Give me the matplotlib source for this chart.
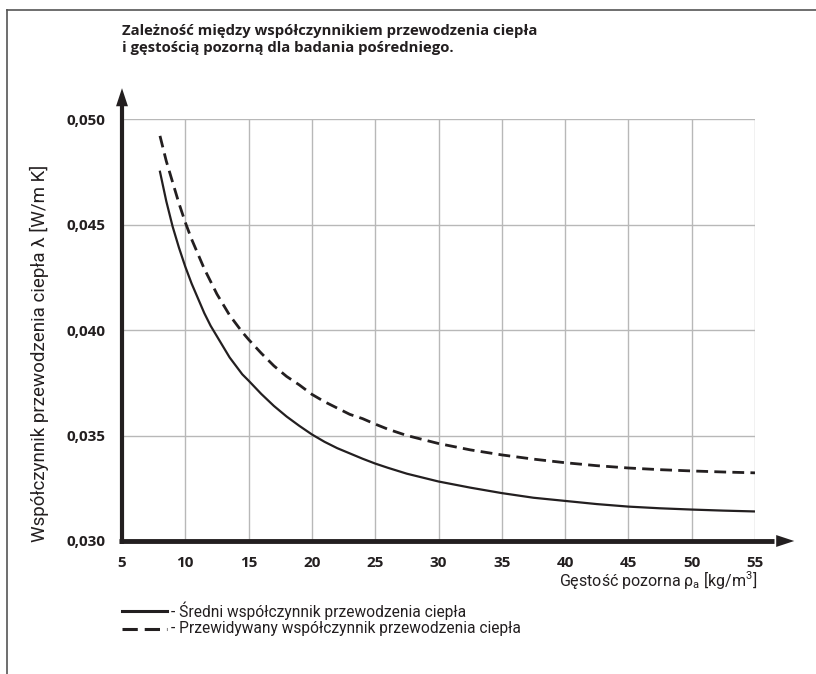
import matplotlib
matplotlib.use('Agg')
import matplotlib.pyplot as plt
from matplotlib.lines import Line2D

# gestosc pozorna [kg/m3]
gestosc = [8, 8.5, 9, 9.5, 10, 10.5, 11, 11.5, 12, 12.5, 13, 13.5, 14, 14.5, 15,
           16, 17, 18, 19, 20, 21, 22, 23, 24, 25, 26, 27.5, 30, 32.5, 35, 37.5,
           40, 42.5, 45, 47.5, 50, 52.5, 55]
# sredni wspolczynnik przewodzenia ciepla [W/m K]
lam_sredni = [0.0475, 0.0461, 0.0449, 0.0439, 0.0430, 0.0422, 0.0415, 0.0408, 0.0402, 0.0397,
              0.0392, 0.0387, 0.0383, 0.0379, 0.0376,
              0.03697, 0.0364, 0.0359, 0.03546, 0.03505, 0.0347, 0.0344, 0.03415, 0.0339,
              0.03367, 0.03347, 0.03319, 0.03282, 0.03253, 0.03227, 0.03205,
              0.0319, 0.03175, 0.03163, 0.03155, 0.03149, 0.03144, 0.0314]
# przewidywany wspolczynnik przewodzenia ciepla [W/m K]
lam_przew = [0.0492, 0.0480, 0.0470, 0.0460, 0.0451, 0.0443, 0.0436, 0.0429, 0.0423, 0.0417,
             0.0412, 0.0407, 0.0403, 0.0399, 0.03955,
             0.0389, 0.0383, 0.0378, 0.0374, 0.03695, 0.0366, 0.0363, 0.0360, 0.0358,
             0.03554, 0.0353, 0.0350, 0.03462, 0.03432, 0.03408, 0.03388,
             0.03371, 0.03357, 0.03346, 0.03338, 0.03332, 0.03327, 0.03323]

xticks = [5, 10, 15, 20, 25, 30, 35, 40, 45, 50, 55]
yticks = [0.030, 0.035, 0.040, 0.045, 0.050]
ytick_labels = ['0,030', '0,035', '0,040', '0,045', '0,050']

tytul = 'Zależność między współczynnikiem przewodzenia ciepła\ni gęstością pozorną dla badania pośredniego.'
opis_x = 'Gęstość pozorna ρ$_\\mathregular{a}$ [kg/m$^\\mathregular{3}$]'
opis_y = 'Współczynnik przewodzenia ciepła λ [W/m K]'
legenda = ['- Średni współczynnik przewodzenia ciepła',
           '- Przewidywany współczynnik przewodzenia ciepła']

bold_font = ['Open Sans', 'DejaVu Sans']
narrow_font = ['Liberation Sans Narrow', 'Roboto', 'DejaVu Sans']
dark = '#231f20'
plt.rcParams['lines.scale_dashes'] = False

W, H = 816, 674
fig = plt.figure(figsize=(8.16, 6.74), dpi=100)
ax = fig.add_axes([122/W, 133/H, 633/W, 422/H])

ax.plot(gestosc, lam_sredni, color=dark, lw=1.6)
ax.plot(gestosc, lam_przew, color=dark, lw=2.0, dashes=(8.5, 4.5))

ax.set_xlim(5, 55)
ax.set_ylim(0.030, 0.050)
ax.set_xticks(xticks)
ax.set_yticks(yticks)
ax.set_yticklabels(ytick_labels)
ax.grid(True, color='#b8b8b8', lw=1.0)
ax.set_axisbelow(True)
for s in ax.spines.values():
    s.set_visible(False)
ax.tick_params(length=0)
ax.tick_params(axis='y', pad=12)
ax.tick_params(axis='x', pad=11)
for t in ax.get_xticklabels() + ax.get_yticklabels():
    t.set_fontfamily(bold_font)
    t.set_fontweight('bold')
    t.set_fontsize(11)
    t.set_color(dark)

# osie ze strzalkami
ax.plot([0, 0], [-0.006, 1.04], transform=ax.transAxes, color=dark, lw=3, clip_on=False,
        solid_capstyle='butt')
ax.plot([-0.004, 1.03], [0, 0], transform=ax.transAxes, color=dark, lw=3.5, clip_on=False,
        solid_capstyle='butt')
ax.annotate('', xy=(0, 1.073), xytext=(0, 1.0), xycoords='axes fraction',
            arrowprops=dict(arrowstyle='-|>,head_length=1.0,head_width=0.33', lw=0,
                            color=dark, mutation_scale=13, shrinkA=0, shrinkB=0))
ax.annotate('', xy=(1.062, 0), xytext=(1.0, 0), xycoords='axes fraction',
            arrowprops=dict(arrowstyle='-|>,head_length=1.0,head_width=0.33', lw=0,
                            color=dark, mutation_scale=13, shrinkA=0, shrinkB=0))

ax.text(1.003, -0.092, opis_x, transform=ax.transAxes, ha='right', va='center',
        fontsize=11.5, family=narrow_font, color=dark)
ax.text(-0.13, 0.445, opis_y, transform=ax.transAxes, ha='center', va='center',
        rotation=90, fontsize=13.5, family=narrow_font, color=dark)

fig.text(122/W, 1 - 24/H, tytul, ha='left', va='top', fontsize=10.7,
         fontweight='bold', family=bold_font, color=dark, linespacing=1.3)

# legenda
for i, (lab, st) in enumerate(zip(legenda, [(None, None), (11, 5)])):
    yy = 1 - (611 + 18 * i) / H
    ln = Line2D([122/W, 167/W], [yy, yy], transform=fig.transFigure, color=dark, lw=2.2)
    if st[0] is not None:
        ln.set_dashes(st)
    fig.add_artist(ln)
    fig.text(171/W, yy, lab, ha='left', va='center', fontsize=11.2, family=narrow_font,
             color=dark)

# ramka
fig.add_artist(Line2D([7/W, 1], [1 - 10/H, 1 - 10/H], transform=fig.transFigure,
                      color='#555555', lw=1.2))
fig.add_artist(Line2D([7/W, 7/W], [0, 1 - 10/H], transform=fig.transFigure,
                      color='#555555', lw=1.2))

fig.savefig('out.png', dpi=100)
